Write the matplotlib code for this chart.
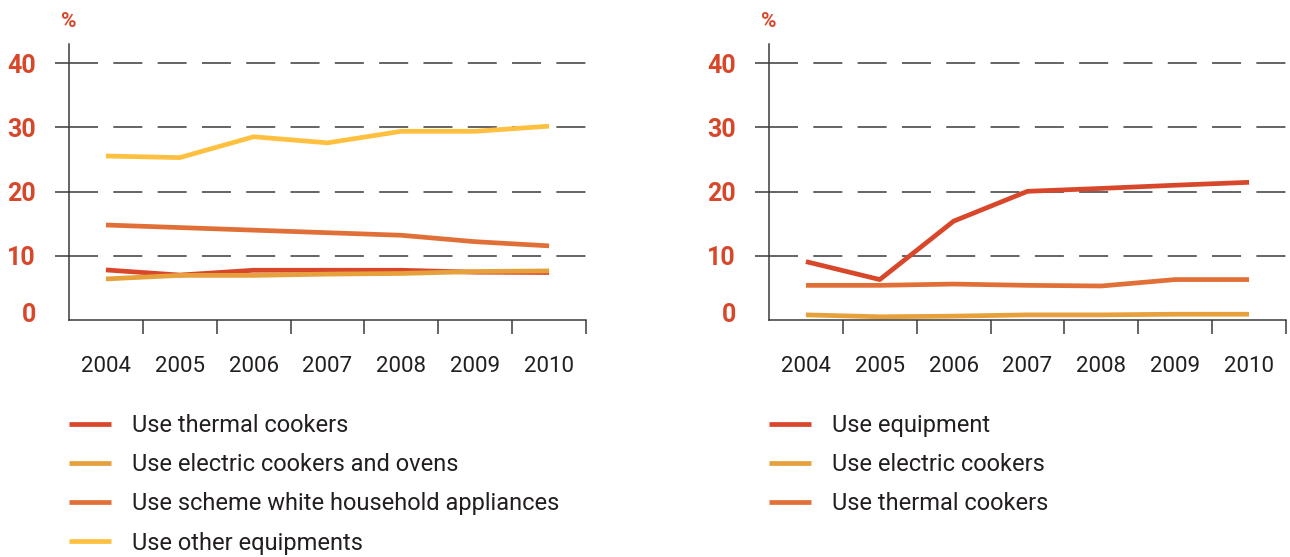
import matplotlib.pyplot as plt
import matplotlib.transforms as mtransforms

years = ['2004', '2005', '2006', '2007', '2008', '2009', '2010']

# left panel
thermal_cookers = [7.8, 7.0, 7.75, 7.75, 7.75, 7.45, 7.4]
electric_ovens = [6.4, 6.95, 6.95, 7.15, 7.25, 7.55, 7.65]
white_appliances = [14.8, 14.4, 14.0, 13.6, 13.2, 12.2, 11.55]
other_equipments = [25.55, 25.3, 28.55, 27.6, 29.4, 29.4, 30.2]

# right panel
equipment = [9.1, 6.3, 15.4, 20.05, 20.5, 21.0, 21.45]
electric_cookers = [0.8, 0.5, 0.6, 0.8, 0.8, 0.9, 0.9]
thermal_cookers_r = [5.4, 5.4, 5.6, 5.4, 5.3, 6.3, 6.3]

RED = '#D9472B'
GOLD = '#E6A03C'
ORANGE = '#E07038'
YELLOW = '#FFC040'
INK = '#231F20'

plt.rcParams['font.family'] = ['Roboto', 'DejaVu Sans']

fig = plt.figure(figsize=(12.9, 5.57), dpi=100)
ax1 = fig.add_axes([69 / 1290, 1 - 320 / 557, 517 / 1290, 276 / 557])
ax2 = fig.add_axes([769 / 1290, 1 - 320 / 557, 517 / 1290, 276 / 557])


def style_axes(ax):
    x = range(len(years))
    ax.set_xlim(-0.5, 6.5)
    ax.set_ylim(0, 43)
    for side in ['top', 'right']:
        ax.spines[side].set_visible(False)
    for side in ['left', 'bottom']:
        ax.spines[side].set_color('#3a3a3a')
        ax.spines[side].set_linewidth(1.1)
    # category labels centred, tick marks at the bin edges
    ax.set_xticks([i + 0.5 for i in x])
    ax.set_xticklabels([])
    ax.set_xticks(list(x), minor=True)
    ax.set_xticklabels(years, minor=True, fontsize=16, color=INK)
    ax.tick_params(axis='x', which='major', length=10, width=1.1,
                   color='#3a3a3a', direction='out')
    ax.tick_params(axis='x', which='minor', length=0, pad=26)
    ax.set_yticks([0, 10, 20, 30, 40])
    ax.set_yticklabels(['0', '10', '20', '30', '40'], fontsize=18,
                       fontweight='bold', color=RED)
    ax.tick_params(axis='y', length=10, width=1.1, color='#3a3a3a', pad=14)
    yt = ax.yaxis.get_major_ticks()
    yt[0].tick1line.set_visible(False)
    off = mtransforms.ScaledTranslation(0, 8 / 100, fig.dpi_scale_trans)
    yt[0].label1.set_transform(yt[0].label1.get_transform() + off)
    for v in [10, 20, 30, 40]:
        ax.axhline(v, color='#3a3a3a', lw=1.1, dashes=(19, 10), zorder=0)
    ax.text(0, 1.08, '%', transform=ax.transAxes, ha='center', va='center',
            fontsize=15, fontweight='bold', color=RED)


style_axes(ax1)
style_axes(ax2)

x = range(len(years))
lw = 3.4
ax1.plot(x, other_equipments, color=YELLOW, lw=lw, solid_capstyle='butt')
ax1.plot(x, white_appliances, color=ORANGE, lw=lw, solid_capstyle='butt')
ax1.plot(x, thermal_cookers, color=RED, lw=lw, solid_capstyle='butt')
ax1.plot(x, electric_ovens, color=GOLD, lw=lw, solid_capstyle='butt')

ax2.plot(x, equipment, color=RED, lw=lw, solid_capstyle='butt')
ax2.plot(x, electric_cookers, color=GOLD, lw=lw, solid_capstyle='butt')
ax2.plot(x, thermal_cookers_r, color=ORANGE, lw=lw, solid_capstyle='butt')

h = lambda c: plt.Line2D([], [], color=c, lw=lw, solid_capstyle='butt')
leg_kw = dict(loc='upper left', frameon=False, fontsize=17, handlelength=1.78,
              handletextpad=0.89, labelspacing=0.69, borderpad=0,
              borderaxespad=0, labelcolor=INK)
ax1.legend([h(RED), h(GOLD), h(ORANGE), h(YELLOW)],
           ['Use thermal cookers', 'Use electric cookers and ovens',
            'Use scheme white household appliances', 'Use other equipments'],
           bbox_to_anchor=(0.0, -0.34), **leg_kw)
ax2.legend([h(RED), h(GOLD), h(ORANGE)],
           ['Use equipment', 'Use electric cookers', 'Use thermal cookers'],
           bbox_to_anchor=(0.0, -0.34), **leg_kw)

fig.savefig('out.png', dpi=100)
